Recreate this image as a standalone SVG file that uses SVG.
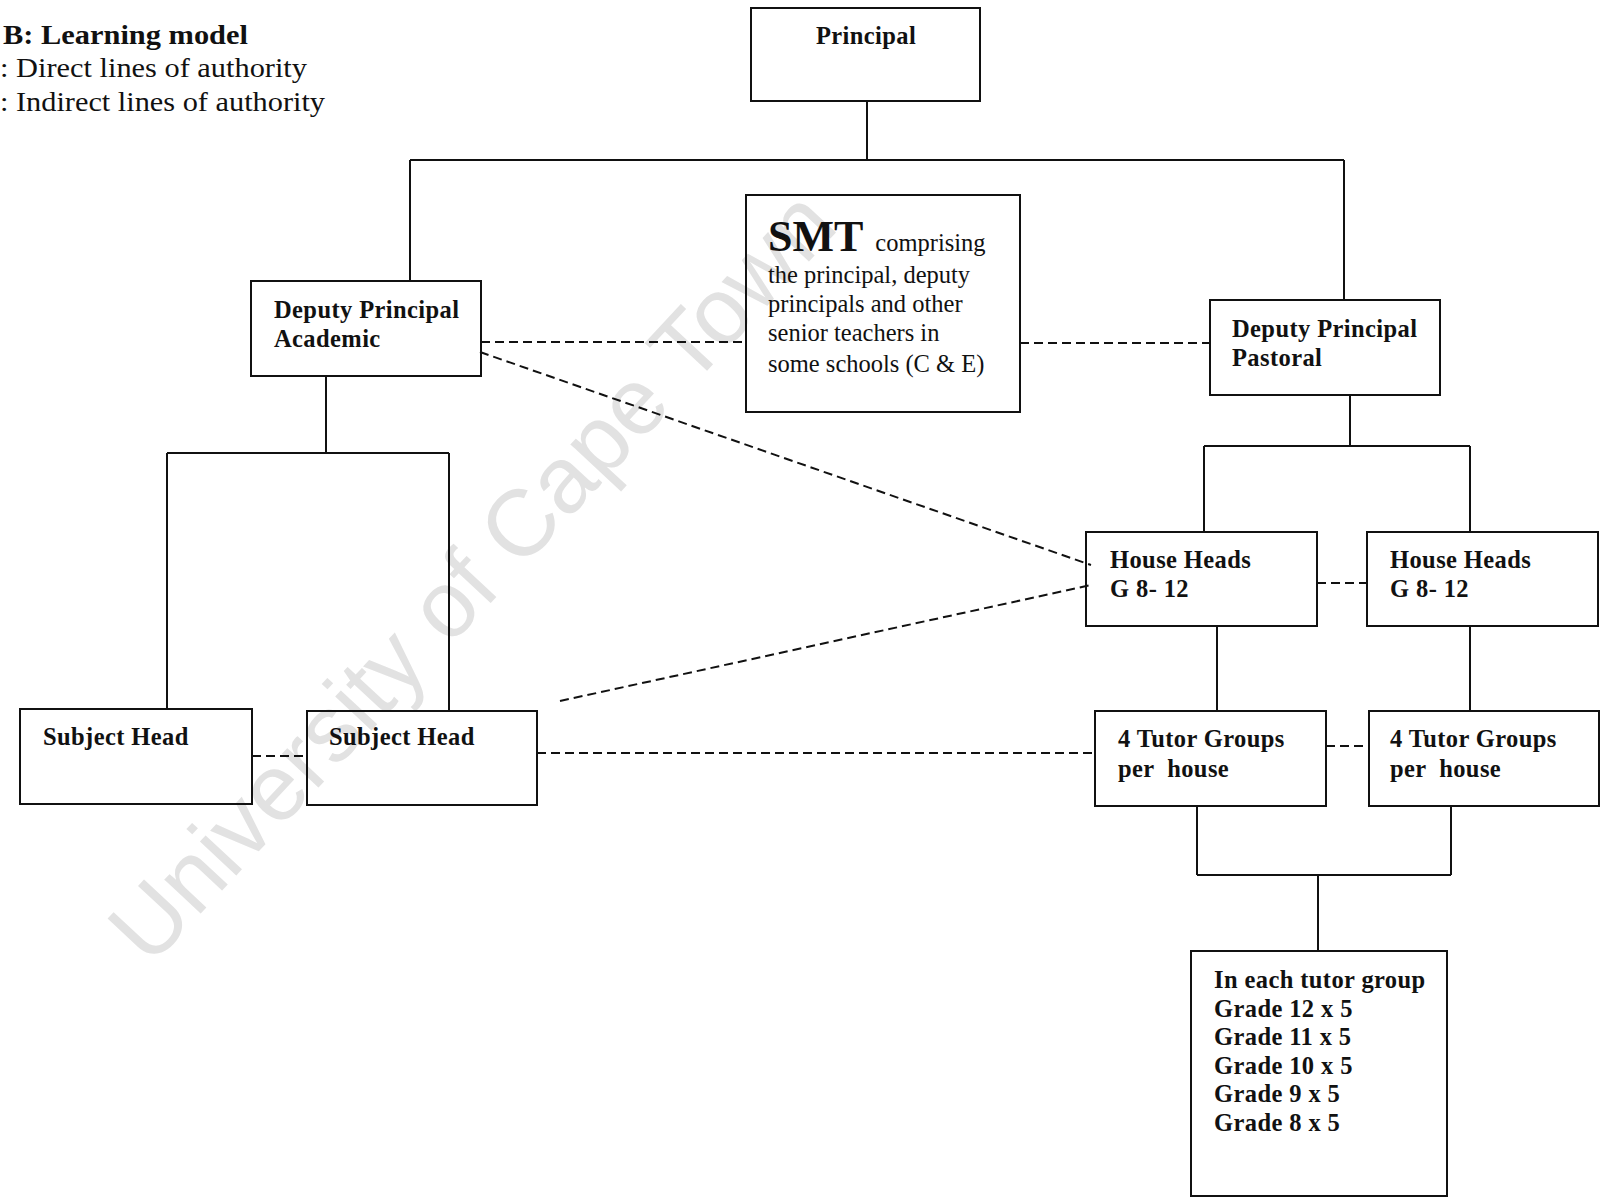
<svg xmlns="http://www.w3.org/2000/svg" width="1602" height="1197" viewBox="0 0 1602 1197">
<style>
.box{fill:none;stroke:#111;stroke-width:2}
.t{font-family:"Liberation Serif","Times New Roman",serif;font-weight:bold;font-size:24.5px;fill:#111;letter-spacing:0.4px}
.r{font-family:"Liberation Serif","Times New Roman",serif;font-size:24.5px;fill:#111}
.h{font-family:"Liberation Serif","Times New Roman",serif;font-size:27px;fill:#111}
.solid{fill:none;stroke:#111;stroke-width:2}
.dash{fill:none;stroke:#111;stroke-width:2;stroke-dasharray:9 5}
.wm{font-family:"Liberation Sans",Arial,sans-serif;font-size:94px;fill:#e2e2e2}
.pre{white-space:pre}
</style>
<rect width="1602" height="1197" fill="#fff"/>
<text class="wm" x="150" y="968" transform="rotate(-47 150 968)">University of Cape Town</text>
<g id="legend">
<text class="h" x="3" y="44" font-weight="bold" textLength="245" lengthAdjust="spacingAndGlyphs">B: Learning model</text>
<text class="h" x="0" y="77" textLength="307" lengthAdjust="spacingAndGlyphs">: Direct lines of authority</text>
<text class="h" x="0" y="111" textLength="325" lengthAdjust="spacingAndGlyphs">: Indirect lines of authority</text>
</g>
<g id="connectors">
<path class="solid" d="M867 101V160M410 160H1344M410 160V281M1344 160V300"/>
<path class="solid" d="M326 376V453M167 453H449M167 453V709M449 453V711"/>
<path class="solid" d="M1350 395V446M1204 446H1470M1204 446V532M1470 446V532"/>
<path class="solid" d="M1217 626V711M1470 626V711"/>
<path class="solid" d="M1197 806V875M1451 806V875M1197 875H1451M1318 875V951"/>
<path class="dash" d="M481 342H746M1020 343H1210"/>
<path class="dash" d="M480 352L1091 565"/>
<path class="dash" d="M560 701L1091 585"/>
<path class="dash" d="M1317 583H1367M1326 746H1369"/>
<path class="dash" d="M252 756H307M537 753H1095"/>
</g>
<g id="principal"><rect class="box" x="751" y="8" width="229" height="93"/><text class="t" x="866" y="44" text-anchor="middle">Principal</text></g>
<g id="dp-academic"><rect class="box" x="251" y="281" width="230" height="95"/><text class="t" x="274" y="318">Deputy Principal</text><text class="t" x="274" y="347">Academic</text></g>
<g id="smt"><rect class="box" x="746" y="195" width="274" height="217"/>
<text class="r" x="768" y="251"><tspan font-size="44" font-weight="bold">SMT</tspan><tspan dx="12">comprising</tspan></text>
<text class="r" x="768" y="283">the principal, deputy</text>
<text class="r" x="768" y="312">principals and other</text>
<text class="r" x="768" y="341">senior teachers in</text>
<text class="r" x="768" y="372">some schools (C &amp; E)</text></g>
<g id="dp-pastoral"><rect class="box" x="1210" y="300" width="230" height="95"/><text class="t" x="1232" y="337">Deputy Principal</text><text class="t" x="1232" y="366">Pastoral</text></g>
<g id="house-heads-1"><rect class="box" x="1086" y="532" width="231" height="94"/><text class="t" x="1110" y="568">House Heads</text><text class="t" x="1110" y="597">G 8- 12</text></g>
<g id="house-heads-2"><rect class="box" x="1367" y="532" width="231" height="94"/><text class="t" x="1390" y="568">House Heads</text><text class="t" x="1390" y="597">G 8- 12</text></g>
<g id="subject-head-1"><rect class="box" x="20" y="709" width="232" height="95"/><text class="t" x="43" y="745">Subject Head</text></g>
<g id="subject-head-2"><rect class="box" x="307" y="711" width="230" height="94"/><text class="t" x="329" y="745">Subject Head</text></g>
<g id="tutor-1"><rect class="box" x="1095" y="711" width="231" height="95"/><text class="t" x="1118" y="747">4 Tutor Groups</text><text class="t pre" x="1118" y="777">per  house</text></g>
<g id="tutor-2"><rect class="box" x="1369" y="711" width="230" height="95"/><text class="t" x="1390" y="747">4 Tutor Groups</text><text class="t pre" x="1390" y="777">per  house</text></g>
<g id="tutor-group-detail"><rect class="box" x="1191" y="951" width="256" height="245"/>
<text class="t" x="1214" y="988">In each tutor group</text>
<text class="t" x="1214" y="1017">Grade 12 x 5</text>
<text class="t" x="1214" y="1045">Grade 11 x 5</text>
<text class="t" x="1214" y="1074">Grade 10 x 5</text>
<text class="t" x="1214" y="1102">Grade 9 x 5</text>
<text class="t" x="1214" y="1131">Grade 8 x 5</text></g>
</svg>
